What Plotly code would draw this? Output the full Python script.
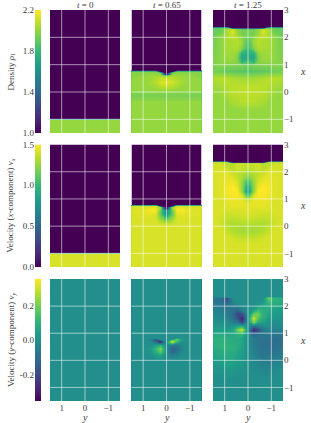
import plotly.graph_objects as go

W, H = 311, 423
FONT = "Liberation Serif"
INK = "#3a3a3a"

TIME_TITLES = ["<i>t</i> = 0", "<i>t</i> = 0.65", "<i>t</i> = 1.25"]
ROW_TITLES = ["Density <i>ρ</i><sub>1</sub>",
              "Velocity (<i>x</i>-component) <i>v</i><sub><i>x</i></sub>",
              "Velocity (<i>y</i>-component) <i>v</i><sub><i>y</i></sub>"]
RHO_RANGE = [1.0, 2.2]
VX_RANGE = [0.0, 1.5]
VY_RANGE = [-0.354, 0.354]
RHO_TICKS = [1.0, 1.4, 1.8, 2.2]
VX_TICKS = [0.0, 0.5, 1.0, 1.5]
VY_TICKS = [-0.2, 0.0, 0.2]
X_TICKS = [-1, 0, 1, 2, 3]
Y_TICKS = [1, 0, -1]
X_GRID = [-1, 0, 1, 2]
Y_GRID = [-1, 0, 1]

# t = 0
Y_T0 = [-1.5, 1.5]
X_T0 = [-1.5, -1.03, -0.98, 3.0]
RHO_T0 = [[2.0, 2.0], [2.0, 2.0], [1.0, 1.0], [1.0, 1.0]]
VX_T0 = [[1.42, 1.42], [1.42, 1.42], [0.0, 0.0], [0.0, 0.0]]
VY_T0 = [[0.0, 0.0], [0.0, 0.0], [0.0, 0.0], [0.0, 0.0]]

# t = 0.65
Y_T1 = [-1.5, -1.0, -0.7, -0.45, -0.25, 0.0, 0.25, 0.45, 0.7, 1.0, 1.5]
X_RHO_T1 = [-1.5, -0.35, -0.12, 0.05, 0.2, 0.33, 0.5, 0.57, 0.62, 0.68, 0.73, 0.78, 3.0]
RHO_T1 = [
    [2.00, 2.00, 2.00, 2.00, 2.00, 2.00, 2.00, 2.00, 2.00, 2.00, 2.00],
    [2.00, 2.00, 2.00, 2.00, 2.00, 2.00, 2.00, 2.00, 2.00, 2.00, 2.00],
    [1.95, 1.95, 1.95, 1.95, 1.95, 1.95, 1.95, 1.95, 1.95, 1.95, 1.95],
    [2.00, 2.00, 2.00, 2.01, 2.01, 2.02, 2.01, 2.01, 2.00, 2.00, 2.00],
    [2.00, 2.00, 2.01, 2.04, 2.07, 2.08, 2.07, 2.04, 2.01, 2.00, 2.00],
    [2.00, 2.01, 2.03, 2.07, 2.12, 2.16, 2.12, 2.07, 2.03, 2.01, 2.00],
    [2.00, 2.01, 2.02, 2.05, 2.08, 2.10, 2.08, 2.05, 2.02, 2.01, 2.00],
    [1.98, 2.00, 2.02, 2.04, 2.05, 2.02, 2.05, 2.04, 2.02, 2.00, 1.98],
    [1.98, 1.99, 2.01, 2.02, 2.01, 1.00, 2.01, 2.02, 2.01, 1.99, 1.98],
    [1.98, 1.98, 1.98, 1.99, 1.97, 1.00, 1.97, 1.99, 1.98, 1.98, 1.98],
    [1.98, 1.98, 1.98, 1.98, 1.00, 1.00, 1.00, 1.98, 1.98, 1.98, 1.98],
    [1.00, 1.00, 1.00, 1.00, 1.00, 1.00, 1.00, 1.00, 1.00, 1.00, 1.00],
    [1.00, 1.00, 1.00, 1.00, 1.00, 1.00, 1.00, 1.00, 1.00, 1.00, 1.00],
]
X_VX_T1 = [-1.5, 0.0, 0.1, 0.25, 0.4, 0.5, 0.57, 0.62, 0.68, 0.73, 0.78, 3.0]
VX_T1 = [
    [1.42, 1.42, 1.42, 1.42, 1.42, 1.42, 1.42, 1.42, 1.42, 1.42, 1.42],
    [1.42, 1.42, 1.42, 1.42, 1.42, 1.42, 1.42, 1.42, 1.42, 1.42, 1.42],
    [1.42, 1.42, 1.42, 1.41, 1.38, 1.34, 1.38, 1.41, 1.42, 1.42, 1.42],
    [1.42, 1.42, 1.42, 1.41, 1.26, 1.12, 1.26, 1.41, 1.42, 1.42, 1.42],
    [1.42, 1.43, 1.44, 1.42, 1.14, 0.80, 1.14, 1.42, 1.44, 1.43, 1.42],
    [1.42, 1.44, 1.47, 1.46, 1.10, 0.72, 1.10, 1.46, 1.47, 1.44, 1.42],
    [1.42, 1.44, 1.49, 1.48, 1.16, 0.72, 1.16, 1.48, 1.49, 1.44, 1.42],
    [1.42, 1.43, 1.47, 1.48, 1.24, 0.00, 1.24, 1.48, 1.47, 1.43, 1.42],
    [1.42, 1.42, 1.44, 1.44, 1.29, 0.00, 1.29, 1.44, 1.44, 1.42, 1.42],
    [1.42, 1.42, 1.42, 1.42, 0.00, 0.00, 0.00, 1.42, 1.42, 1.42, 1.42],
    [0.00, 0.00, 0.00, 0.00, 0.00, 0.00, 0.00, 0.00, 0.00, 0.00, 0.00],
    [0.00, 0.00, 0.00, 0.00, 0.00, 0.00, 0.00, 0.00, 0.00, 0.00, 0.00],
]
X_VY_T1 = [-1.5, 0.0, 0.15, 0.3, 0.42, 0.55, 0.62, 0.69, 0.76, 0.82, 3.0]
VY_T1 = [
    [0.00, 0.00, 0.00, 0.00, 0.00, 0.00, 0.00, 0.00, 0.00, 0.00, 0.00],
    [0.00, 0.00, 0.00, 0.00, 0.00, 0.00, 0.00, 0.00, 0.00, 0.00, 0.00],
    [0.00, 0.00, 0.00, -0.02, -0.04, 0.00, 0.05, 0.03, 0.00, 0.00, 0.00],
    [0.00, 0.00, -0.01, -0.08, -0.12, 0.00, 0.17, 0.09, 0.01, 0.00, 0.00],
    [0.00, 0.00, -0.02, -0.10, -0.14, 0.00, 0.22, 0.12, 0.02, 0.00, 0.00],
    [0.00, 0.00, -0.01, -0.06, -0.08, 0.00, 0.10, 0.05, 0.00, 0.00, 0.00],
    [0.00, 0.00, 0.00, 0.00, 0.15, 0.00, -0.15, -0.02, 0.00, 0.00, 0.00],
    [0.00, 0.00, 0.00, 0.12, 0.32, 0.00, -0.33, -0.13, 0.00, 0.00, 0.00],
    [0.00, 0.00, 0.03, 0.20, 0.02, 0.00, -0.02, -0.20, -0.03, 0.00, 0.00],
    [0.00, 0.00, 0.00, 0.00, 0.00, 0.00, 0.00, 0.00, 0.00, 0.00, 0.00],
    [0.00, 0.00, 0.00, 0.00, 0.00, 0.00, 0.00, 0.00, 0.00, 0.00, 0.00],
]

# t = 1.25
Y_T2 = [-1.5, -1.1, -0.9, -0.65, -0.45, -0.25, 0.0, 0.25, 0.45, 0.65, 0.9, 1.1, 1.5]
X_RHO_T2 = [-1.5, -0.7, -0.4, -0.1, 0.2, 0.5, 0.75, 0.95, 1.1, 1.25, 1.4, 1.6, 1.85, 2.05, 2.2, 2.28, 2.33, 2.38, 3.0]
RHO_T2 = [
    [2.00, 2.00, 2.00, 2.00, 2.00, 2.00, 2.00, 2.00, 2.00, 2.00, 2.00, 2.00, 2.00],
    [2.00, 2.00, 2.00, 2.00, 2.00, 2.00, 2.00, 2.00, 2.00, 2.00, 2.00, 2.00, 2.00],
    [2.00, 2.00, 2.01, 2.04, 2.05, 2.06, 2.06, 2.06, 2.05, 2.04, 2.01, 2.00, 2.00],
    [2.00, 2.02, 2.04, 2.07, 2.08, 2.08, 2.08, 2.08, 2.08, 2.07, 2.04, 2.02, 2.00],
    [2.02, 2.04, 2.06, 2.07, 2.07, 2.08, 2.08, 2.08, 2.07, 2.07, 2.06, 2.04, 2.02],
    [2.06, 2.07, 2.07, 2.05, 2.04, 2.03, 2.03, 2.03, 2.04, 2.05, 2.07, 2.07, 2.06],
    [1.94, 1.93, 1.91, 1.90, 1.89, 1.88, 1.88, 1.88, 1.89, 1.90, 1.91, 1.93, 1.94],
    [1.97, 1.97, 1.96, 1.96, 1.96, 1.96, 1.93, 1.96, 1.96, 1.96, 1.96, 1.97, 1.97],
    [1.97, 1.99, 2.00, 2.00, 1.98, 1.78, 1.86, 1.78, 1.98, 2.00, 2.00, 1.99, 1.97],
    [1.96, 2.00, 2.02, 2.02, 1.97, 1.70, 1.74, 1.70, 1.97, 2.02, 2.02, 2.00, 1.96],
    [1.95, 2.00, 2.03, 2.02, 1.99, 1.76, 1.76, 1.76, 1.99, 2.02, 2.03, 2.00, 1.95],
    [1.95, 2.00, 2.04, 2.05, 2.06, 1.97, 1.82, 1.97, 2.06, 2.05, 2.04, 2.00, 1.95],
    [1.94, 2.00, 2.04, 2.05, 2.07, 2.02, 1.86, 2.02, 2.07, 2.05, 2.04, 2.00, 1.94],
    [1.93, 2.00, 2.04, 2.10, 2.04, 1.97, 1.93, 1.97, 2.04, 2.10, 2.04, 2.00, 1.93],
    [1.91, 1.93, 2.05, 2.14, 1.99, 1.95, 1.94, 1.95, 1.99, 2.14, 2.05, 1.93, 1.91],
    [1.91, 1.93, 2.06, 2.11, 2.01, 1.94, 1.93, 1.94, 2.01, 2.11, 2.06, 1.93, 1.91],
    [1.91, 1.93, 1.93, 1.00, 1.00, 1.00, 1.00, 1.00, 1.00, 1.00, 1.93, 1.93, 1.91],
    [1.00, 1.00, 1.00, 1.00, 1.00, 1.00, 1.00, 1.00, 1.00, 1.00, 1.00, 1.00, 1.00],
    [1.00, 1.00, 1.00, 1.00, 1.00, 1.00, 1.00, 1.00, 1.00, 1.00, 1.00, 1.00, 1.00],
]
X_VX_T2 = [-1.5, -0.7, -0.45, -0.2, 0.1, 0.4, 0.7, 0.95, 1.1, 1.26, 1.45, 1.65, 1.9, 2.1, 2.25, 2.29, 2.33, 2.38, 3.0]
VX_T2 = [
    [1.42, 1.42, 1.42, 1.42, 1.42, 1.42, 1.42, 1.42, 1.42, 1.42, 1.42, 1.42, 1.42],
    [1.42, 1.42, 1.42, 1.42, 1.42, 1.42, 1.42, 1.42, 1.42, 1.42, 1.42, 1.42, 1.42],
    [1.42, 1.42, 1.42, 1.40, 1.38, 1.37, 1.37, 1.37, 1.38, 1.40, 1.42, 1.42, 1.42],
    [1.42, 1.41, 1.38, 1.33, 1.30, 1.29, 1.29, 1.29, 1.30, 1.33, 1.38, 1.41, 1.42],
    [1.42, 1.38, 1.34, 1.32, 1.32, 1.33, 1.34, 1.33, 1.32, 1.32, 1.34, 1.38, 1.42],
    [1.42, 1.40, 1.38, 1.38, 1.39, 1.40, 1.40, 1.40, 1.39, 1.38, 1.38, 1.40, 1.42],
    [1.42, 1.42, 1.43, 1.44, 1.44, 1.44, 1.44, 1.44, 1.44, 1.44, 1.43, 1.42, 1.42],
    [1.41, 1.42, 1.44, 1.46, 1.46, 1.45, 1.36, 1.45, 1.46, 1.46, 1.44, 1.42, 1.41],
    [1.41, 1.43, 1.46, 1.49, 1.49, 1.42, 1.05, 1.42, 1.49, 1.49, 1.46, 1.43, 1.41],
    [1.41, 1.43, 1.48, 1.50, 1.50, 1.26, 0.75, 1.26, 1.50, 1.50, 1.48, 1.43, 1.41],
    [1.41, 1.43, 1.48, 1.50, 1.46, 1.24, 0.85, 1.24, 1.46, 1.50, 1.48, 1.43, 1.41],
    [1.41, 1.43, 1.46, 1.46, 1.42, 1.26, 1.05, 1.26, 1.42, 1.46, 1.46, 1.43, 1.41],
    [1.41, 1.43, 1.44, 1.39, 1.36, 1.32, 1.26, 1.32, 1.36, 1.39, 1.44, 1.43, 1.41],
    [1.40, 1.42, 1.40, 1.34, 1.39, 1.36, 1.34, 1.36, 1.39, 1.34, 1.40, 1.42, 1.40],
    [1.40, 1.39, 1.34, 1.34, 1.40, 1.37, 1.36, 1.37, 1.40, 1.34, 1.34, 1.39, 1.40],
    [1.40, 1.39, 1.34, 1.34, 1.40, 1.37, 1.36, 1.37, 1.40, 1.34, 1.34, 1.39, 1.40],
    [1.40, 1.39, 1.34, 0.00, 0.00, 0.00, 0.00, 0.00, 0.00, 0.00, 1.34, 1.39, 1.40],
    [0.00, 0.00, 0.00, 0.00, 0.00, 0.00, 0.00, 0.00, 0.00, 0.00, 0.00, 0.00, 0.00],
    [0.00, 0.00, 0.00, 0.00, 0.00, 0.00, 0.00, 0.00, 0.00, 0.00, 0.00, 0.00, 0.00],
]
X_VY_T2 = [-1.5, -0.7, -0.3, 0.1, 0.5, 0.8, 0.98, 1.12, 1.25, 1.4, 1.55, 1.7, 1.85, 2.05, 2.2, 2.3, 2.34, 3.0]
VY_T2 = [
    [0.00, 0.00, 0.00, 0.00, 0.00, 0.00, 0.00, 0.00, 0.00, 0.00, 0.00, 0.00, 0.00],
    [0.00, 0.00, 0.00, 0.00, 0.00, 0.00, 0.00, 0.00, 0.00, 0.00, 0.00, 0.00, 0.00],
    [-0.01, -0.02, -0.03, -0.03, -0.02, -0.01, 0.00, 0.01, 0.02, 0.03, 0.03, 0.02, 0.01],
    [-0.05, -0.06, -0.07, -0.07, -0.05, -0.03, 0.00, 0.03, 0.05, 0.07, 0.07, 0.06, 0.05],
    [-0.08, -0.10, -0.10, -0.09, -0.08, -0.05, 0.00, 0.05, 0.08, 0.09, 0.10, 0.10, 0.08],
    [-0.09, -0.10, -0.09, -0.08, -0.08, -0.06, 0.00, 0.06, 0.08, 0.08, 0.09, 0.10, 0.09],
    [-0.07, -0.07, -0.06, -0.07, -0.10, -0.14, 0.00, 0.14, 0.10, 0.07, 0.06, 0.07, 0.07],
    [-0.04, -0.04, -0.03, -0.07, -0.20, -0.30, 0.00, 0.30, 0.20, 0.07, 0.03, 0.04, 0.04],
    [-0.02, -0.02, 0.00, -0.02, -0.06, -0.10, 0.00, 0.10, 0.06, 0.02, 0.00, 0.02, 0.02],
    [0.00, 0.00, 0.01, 0.05, 0.08, 0.22, 0.00, -0.22, -0.08, -0.05, -0.01, 0.00, 0.00],
    [0.01, 0.02, 0.04, 0.09, 0.16, 0.30, 0.00, -0.30, -0.16, -0.09, -0.04, -0.02, -0.01],
    [0.02, 0.04, 0.06, 0.10, 0.20, 0.18, 0.00, -0.18, -0.20, -0.10, -0.06, -0.04, -0.02],
    [0.03, 0.05, 0.07, 0.09, 0.12, 0.04, 0.00, -0.04, -0.12, -0.09, -0.07, -0.05, -0.03],
    [0.06, 0.08, 0.10, 0.05, 0.02, 0.00, 0.00, 0.00, -0.02, -0.05, -0.10, -0.08, -0.06],
    [0.08, 0.10, 0.16, 0.02, 0.00, 0.00, 0.00, 0.00, 0.00, -0.02, -0.16, -0.10, -0.08],
    [0.08, 0.10, 0.20, 0.00, 0.00, 0.00, 0.00, 0.00, 0.00, 0.00, -0.20, -0.10, -0.08],
    [0.00, 0.00, 0.00, 0.00, 0.00, 0.00, 0.00, 0.00, 0.00, 0.00, 0.00, 0.00, 0.00],
    [0.00, 0.00, 0.00, 0.00, 0.00, 0.00, 0.00, 0.00, 0.00, 0.00, 0.00, 0.00, 0.00],
]

PANELS = [
    (Y_T0, X_T0, RHO_T0, RHO_RANGE), (Y_T1, X_RHO_T1, RHO_T1, RHO_RANGE), (Y_T2, X_RHO_T2, RHO_T2, RHO_RANGE),
    (Y_T0, X_T0, VX_T0, VX_RANGE), (Y_T1, X_VX_T1, VX_T1, VX_RANGE), (Y_T2, X_VX_T2, VX_T2, VX_RANGE),
    (Y_T0, X_T0, VY_T0, VY_RANGE), (Y_T1, X_VY_T1, VY_T1, VY_RANGE), (Y_T2, X_VY_T2, VY_T2, VY_RANGE),
]
BARS = [(RHO_RANGE, RHO_TICKS, "%.1f"), (VX_RANGE, VX_TICKS, "%.1f"), (VY_RANGE, VY_TICKS, "%.1f")]

COL_PX = [(50, 120), (131.5, 201.5), (213, 283)]
ROW_PX = [(10, 133), (144.5, 267), (279, 401)]
BAR_PX = (35, 41)
LEVELS = 96


def dx(a, b):
    return [a / W, b / W]


def dy(top, bottom):
    return [1 - bottom / H, 1 - top / H]


fig = go.Figure()
layout = {}
tick_font = dict(family=FONT, size=9, color=INK)
shapes = []

for i, (yv, xv, zv, rng) in enumerate(PANELS):
    n = i + 1
    sfx = "" if n == 1 else str(n)
    r, c = divmod(i, 3)
    step = (rng[1] - rng[0]) / LEVELS
    fig.add_trace(go.Contour(x=yv, y=xv, z=zv, colorscale="Viridis", zmin=rng[0], zmax=rng[1],
                             autocontour=False,
                             contours=dict(start=rng[0], end=rng[1], size=step,
                                           coloring="fill", showlines=False),
                             line=dict(width=0, smoothing=0),
                             showscale=False, hoverinfo="skip",
                             xaxis=f"x{sfx}", yaxis=f"y{sfx}"))
    layout[f"xaxis{sfx}"] = dict(domain=dx(*COL_PX[c]), range=[1.5, -1.5], anchor=f"y{sfx}",
                                 showgrid=False, zeroline=False, showline=False, ticks="",
                                 tickmode="array", tickvals=Y_TICKS, showticklabels=(r == 2),
                                 tickfont=tick_font)
    layout[f"yaxis{sfx}"] = dict(domain=dy(*ROW_PX[r]), range=[-1.5, 3], anchor=f"x{sfx}", side="right",
                                 showgrid=False, zeroline=False, showline=False, ticks="",
                                 tickmode="array", tickvals=X_TICKS, showticklabels=(c == 2),
                                 tickfont=tick_font)
    for v in Y_GRID:
        shapes.append(dict(type="line", xref=f"x{sfx}", yref=f"y{sfx} domain", x0=v, x1=v, y0=0, y1=1,
                           line=dict(color="rgba(255,255,255,0.55)", width=1)))
    for v in X_GRID:
        shapes.append(dict(type="line", xref=f"x{sfx} domain", yref=f"y{sfx}", x0=0, x1=1, y0=v, y1=v,
                           line=dict(color="rgba(255,255,255,0.55)", width=1)))

for r, (rng, ticks, fmt) in enumerate(BARS):
    n = 10 + r
    fig.add_trace(go.Heatmap(x=[0, 1], y=rng, z=[[rng[0], rng[0]], [rng[1], rng[1]]],
                             colorscale="Viridis", zmin=rng[0], zmax=rng[1], zsmooth="best",
                             showscale=False, hoverinfo="skip", xaxis=f"x{n}", yaxis=f"y{n}"))
    layout[f"xaxis{n}"] = dict(domain=dx(*BAR_PX), range=[0, 1], anchor=f"y{n}", showticklabels=False,
                               showgrid=False, zeroline=False, showline=False, ticks="")
    layout[f"yaxis{n}"] = dict(domain=dy(*ROW_PX[r]), range=rng, anchor=f"x{n}", side="left",
                               showgrid=False, zeroline=False, ticks="", tickmode="array",
                               tickvals=ticks, ticktext=[fmt % t for t in ticks], tickfont=tick_font)

annotations = []
for c, text in enumerate(TIME_TITLES):
    annotations.append(dict(text=text, x=sum(COL_PX[c]) / 2 / W, y=1 - 5.5 / H))
for r, text in enumerate(ROW_TITLES):
    annotations.append(dict(text=text, x=11 / W, y=1 - sum(ROW_PX[r]) / 2 / H, textangle=-90))
for a in annotations:
    a["font"] = dict(family=FONT, size=9, color=INK)
for r in range(3):
    annotations.append(dict(text="x", x=303 / W, y=1 - (sum(ROW_PX[r]) / 2) / H,
                            font=dict(family=FONT, size=10, color=INK, style="italic")))
for c in range(3):
    annotations.append(dict(text="y", x=sum(COL_PX[c]) / 2 / W, y=1 - 417 / H,
                            font=dict(family=FONT, size=10, color=INK, style="italic")))
for a in annotations:
    a.update(xref="paper", yref="paper", showarrow=False, xanchor="center", yanchor="middle")

fig.update_layout(width=W, height=H, margin=dict(l=0, r=0, t=0, b=0, autoexpand=False),
                  paper_bgcolor="white",
                  plot_bgcolor="white", showlegend=False, shapes=shapes, annotations=annotations,
                  **layout)
fig.write_html("out.html", config={"displayModeBar": False},
               post_script="document.body.style.margin='0';document.body.style.overflow='hidden';")
